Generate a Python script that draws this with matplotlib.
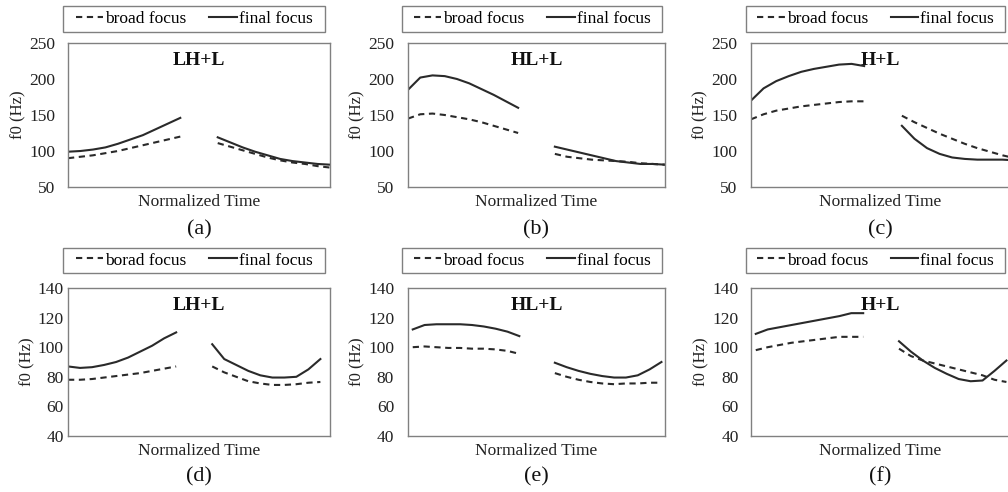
import numpy as np
import matplotlib.pyplot as plt
from matplotlib.patches import Rectangle

plt.rcParams['font.family'] = ['Liberation Serif', 'DejaVu Serif']

# two syllable segments on a normalized time axis
t_first = np.arange(10)
t_second = np.arange(12, 22)

panel_tags = ['(a)', '(b)', '(c)', '(d)', '(e)', '(f)']
tone_names = ['LH+L', 'HL+L', 'H+L', 'LH+L', 'HL+L', 'H+L']
broad_labels = ['broad focus', 'broad focus', 'broad focus',
                'borad focus', 'broad focus', 'broad focus']

# top row: female speakers, bottom row: male speakers (f0 in Hz)
broad_first = [
    [90, 92, 94, 97, 100, 104, 108, 112, 116, 120],
    [145, 151, 152, 150, 147, 144, 140, 135, 130, 125],
    [144, 151, 156, 159, 162, 164, 166, 168, 169, 169],
    [78, 78, 78.5, 79.5, 80.5, 81.5, 82.5, 84, 85.5, 87],
    [100, 100.5, 100, 99.5, 99.5, 99, 99, 98.5, 97.5, 95.5],
    [98, 100, 101.5, 103, 104, 105, 106, 107, 107, 107],
]
broad_second = [
    [111, 106, 101, 96, 91, 87, 84, 82, 79, 77],
    [96, 92, 90, 88, 87, 86, 85, 83, 82, 81],
    [149, 140, 132, 124, 117, 110, 104, 99, 94, 90],
    [87, 83, 80, 77, 75.5, 74.5, 74.5, 75, 76, 76.5],
    [82.5, 80, 78, 76.5, 75.5, 75, 75.5, 75.5, 76, 76],
    [99, 94, 91, 89, 87, 85, 83, 81, 78, 76.5],
]
final_first = [
    [99, 100, 102, 105, 110, 116, 122, 130, 138, 146],
    [185, 202, 205, 204, 200, 194, 186, 178, 169, 160],
    [170, 187, 197, 204, 210, 214, 217, 220, 221, 218],
    [87, 86, 86.5, 88, 90, 93, 97, 101, 106, 110],
    [112, 115, 115.5, 115.5, 115.5, 115, 114, 112.5, 110.5, 107.5],
    [109, 112, 113.5, 115, 116.5, 118, 119.5, 121, 123, 123],
]
final_second = [
    [119, 112, 105, 99, 94, 89, 86, 84, 82, 81],
    [106, 102, 98, 94, 90, 86, 84, 82, 82, 81],
    [135, 117, 104, 96, 91, 89, 88, 88, 88, 87],
    [102, 92, 88, 84, 81, 79.5, 79.5, 80, 85, 92],
    [89.5, 86.5, 84, 82, 80.5, 79.5, 79.5, 81, 85, 90],
    [104, 97, 91, 86, 82, 78.5, 77, 77.5, 84, 91],
]

W, H = 1008, 492
fig = plt.figure(figsize=(W / 100, H / 100), dpi=100)

# pixel boxes: (left, right, top, bottom) of each plot area
col_x = [(68, 330), (408, 665), (751, 1010)]
row_y = [(43, 187), (288, 436)]
legend_x = [(63, 325), (402, 662), (746, 1005)]
legend_y = [(6, 32), (248, 273)]
xlims = [(0, 21), (0, 21), (0, 20.6), (0, 21.8), (-0.4, 21.3), (-0.4, 21.3)]
tick_pads = [9, 10, 10, 3, 10, 9]
grey = '#808080'
ink = '#2a2a2a'

for i in range(6):
    r, c = divmod(i, 3)
    x0, x1 = col_x[c]
    y0, y1 = row_y[r]
    ax = fig.add_axes([x0 / W, 1 - y1 / H, (x1 - x0) / W, (y1 - y0) / H])

    ax.plot(t_first, broad_first[i], color=ink, lw=1.5,
            dashes=(3, 2.2), label=broad_labels[i])
    ax.plot(t_second, broad_second[i], color=ink, lw=1.5,
            dashes=(3, 2.2))
    ax.plot(t_first, final_first[i], color=ink, lw=1.5,
            label='final focus')
    ax.plot(t_second, final_second[i], color=ink, lw=1.5)

    if r == 0:
        ax.set_ylim(50, 250)
        ax.set_yticks([50, 100, 150, 200, 250])
    else:
        ax.set_ylim(40, 140)
        ax.set_yticks([40, 60, 80, 100, 120, 140])
    ax.set_xlim(*xlims[i])
    ax.set_xticks([])
    ax.tick_params(axis='y', length=0, labelsize=12.5, pad=tick_pads[i],
                   labelcolor='#222222')
    for s in ax.spines.values():
        s.set_color(grey)
        s.set_linewidth(1.0)

    ax.set_xlabel('Normalized Time', fontsize=12.5, labelpad=5, color='#222222')
    ax.set_ylabel('f0 (Hz)', fontsize=12, labelpad=2, color='#222222')
    ax.text(0.5, 0.94, tone_names[i], transform=ax.transAxes, ha='center',
            va='top', fontsize=14, fontweight='bold', color='#111111')

    # legend box above each panel
    lx0, lx1 = legend_x[c]
    ly0, ly1 = legend_y[r]
    fig.patches.append(Rectangle((lx0 / W, 1 - ly1 / H), (lx1 - lx0) / W,
                                 (ly1 - ly0) / H, transform=fig.transFigure,
                                 fill=False, edgecolor=grey, lw=1.0))
    ax.legend(loc='center', ncol=2, fontsize=12.5,
              bbox_to_anchor=((lx0 + lx1) / 2 / W, 1 - (ly0 + ly1) / 2 / H),
              bbox_transform=fig.transFigure, frameon=False,
              handlelength=1.6, handletextpad=0.1, columnspacing=1.3,
              borderpad=0, borderaxespad=0)

    fig.text((x0 + x1) / 2 / W, 1 - (230 if r == 0 else 477) / H, panel_tags[i],
             ha='center', va='center', fontsize=16, color='#111111')

fig.savefig('out.png', dpi=100)
